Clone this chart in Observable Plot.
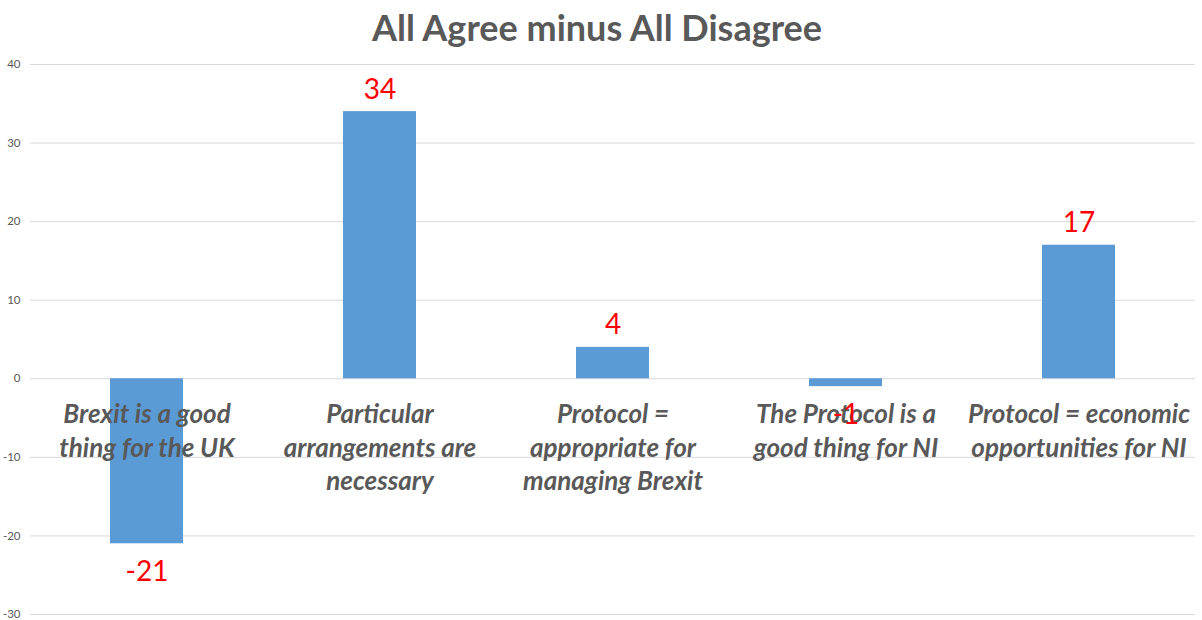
<!DOCTYPE html>
<html>
<head>
<meta charset="utf-8">
<script src="https://cdn.jsdelivr.net/npm/d3@7"></script>
<script src="https://cdn.jsdelivr.net/npm/@observablehq/plot@0.6"></script>
<style>
  html, body { margin: 0; padding: 0; background: #fff; }
  #title { height: 48px; line-height: 54px; text-align: center; font-family: Lato, "Open Sans", sans-serif; font-weight: bold; font-size: 36px; color: #595959; padding-right: 8px; }
</style>
</head>
<body>
<div id="title">All Agree minus All Disagree</div>
<div id="chart"></div>
<script>
const categories = [
  "Brexit is a good\nthing for the UK",
  "Particular\narrangements are\nnecessary",
  "Protocol =\nappropriate for\nmanaging Brexit",
  "The Protocol is a\ngood thing for NI",
  "Protocol = economic\nopportunities for NI"
];
const values = [-21, 34, 4, -1, 17];
const yTicks = [-30, -20, -10, 0, 10, 20, 30, 40];

const data = categories.map((c, i) => ({category: c, value: values[i]}));

const chart = Plot.plot({
  width: 1202,
  height: 572,
  marginLeft: 30,
  marginRight: 7,
  marginTop: 16,
  marginBottom: 6,
  style: {fontFamily: "Lato, 'Open Sans', sans-serif", background: "#fff"},
  x: {domain: categories, paddingInner: 0.687, paddingOuter: 0.343, axis: null},
  y: {domain: [-30, 40], ticks: yTicks, label: null},
  marks: [
    Plot.ruleY(yTicks, {stroke: "#d9d9d9", strokeWidth: 1}),
    Plot.axisY({ticks: yTicks, tickSize: 0, tickPadding: 10, fontSize: 11.5, color: "#595959", label: null, tickFormat: d => String(d)}),
    Plot.barY(data, {x: "category", y: "value", fill: "#5b9bd5"}),
    Plot.text(data, {x: "category", y: () => 0, text: "category", lineAnchor: "top", dy: 20, fontSize: 26, fontWeight: "bold", fontStyle: "italic", fill: "#595959", lineHeight: 1.3}),
    Plot.text(data.filter(d => d.value >= 0), {x: "category", y: "value", text: d => String(d.value), dy: -22, fontSize: 28, fill: "#ff0000"}),
    Plot.text(data.filter(d => d.value < 0), {x: "category", y: "value", text: d => String(d.value), dy: 28, fontSize: 28, fill: "#ff0000"})
  ]
});
document.getElementById("chart").appendChild(chart);
</script>
</body>
</html>
